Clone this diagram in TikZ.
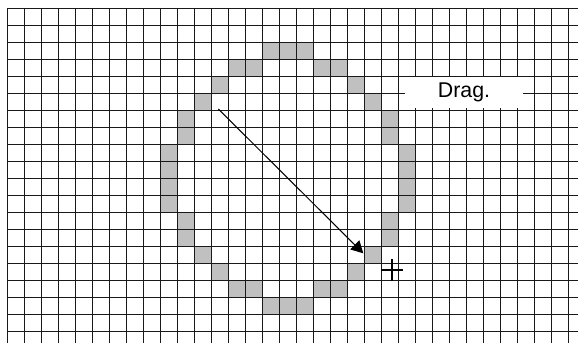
\documentclass[tikz,border=0pt]{standalone}
\usepackage{fontspec}
\setmainfont{Liberation Sans}
\usepackage{xcolor}
\usepackage{tikz}
\usetikzlibrary{arrows.meta}
\definecolor{cellgray}{RGB}{192,192,192}

\begin{document}
\begin{tikzpicture}[x=12.75pt,y=-12.75pt,
    gridline/.style={black!90,line width=0.75pt}]
  \useasboundingbox (-0.412,-0.471) rectangle (33.588,19.706);
  \foreach \c/\r in {15/2,16/2,17/2,13/3,14/3,18/3,19/3,12/4,20/4,11/5,21/5,
      10/6,22/6,10/7,22/7,9/8,23/8,9/9,23/9,9/10,23/10,9/11,23/11,
      10/12,22/12,10/13,22/13,11/14,21/14,12/15,20/15,
      13/16,14/16,18/16,19/16,15/17,16/17,17/17}
    \fill[cellgray] (\c,\r) rectangle ++(1,1);
  \foreach \i in {0,...,33}
    \draw[gridline] (\i,0) -- (\i,19.706);
  \foreach \j in {0,...,19}
    \draw[gridline] (0,\j) -- (33.588,\j);
  \node[fill=white,inner sep=0pt,minimum width=88.5pt,minimum height=23.25pt,
    font=\fontsize{16}{19}\selectfont] (drag) at (26.88,4.97) {Drag.};
  \coordinate (start) at (12.43,5.94);
  \coordinate (tip) at (20.96,14.43);
  \draw[-{Triangle[length=9pt,width=9.5pt]},line width=0.75pt] (start) -- (tip);
  \coordinate (cursor) at (22.66,15.41);
  \draw[line width=1.1pt] ([xshift=-8.3pt]cursor) -- ([xshift=8.3pt]cursor)
    ([yshift=-8.3pt]cursor) -- ([yshift=8.3pt]cursor);
\end{tikzpicture}
\end{document}
